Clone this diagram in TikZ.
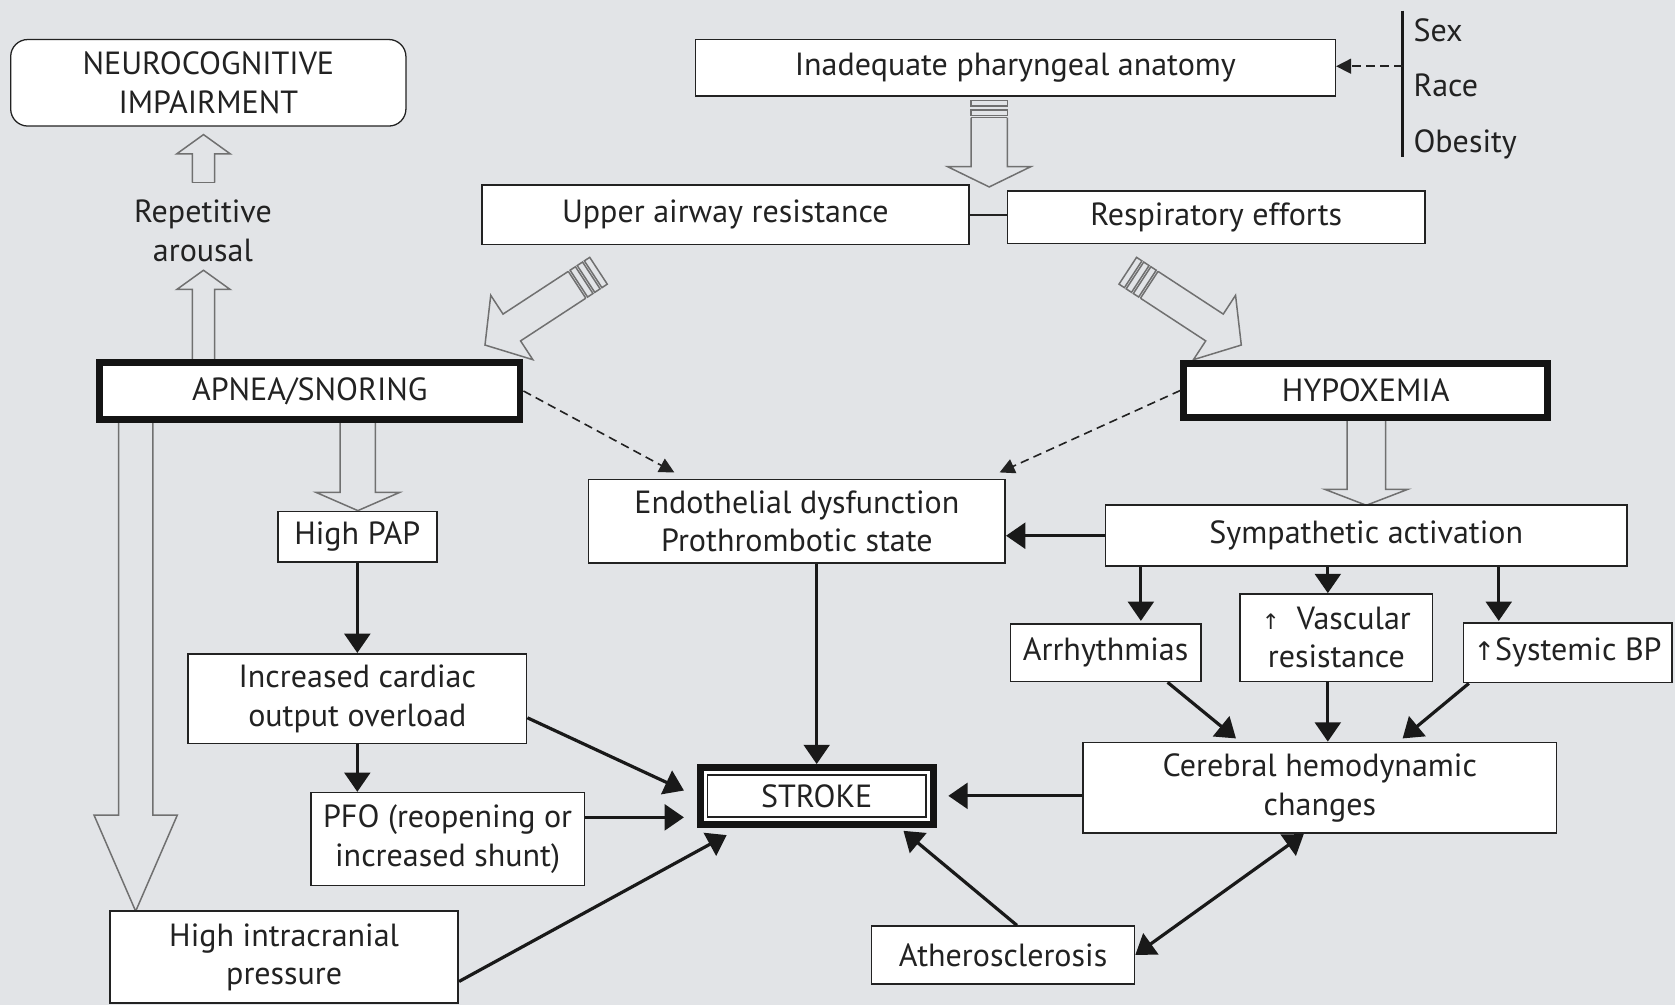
\documentclass[tikz,border=0pt]{standalone}
\usepackage{fontspec}
\setmainfont{PT Sans}
\newfontfamily\symfont{DejaVu Sans}
\usetikzlibrary{arrows.meta,calc}
\definecolor{bg}{HTML}{E2E4E7}
\definecolor{ink}{HTML}{222222}
\definecolor{hol}{HTML}{707070}
\tikzset{
  box/.style={draw=ink, line width=1.5pt, fill=white, align=center, inner sep=0pt,
    text=ink, font=\fontsize{30}{36}\selectfont},
  thickbox/.style={box, line width=6.5pt, draw=black!92},
  arr/.style={draw=black!90, line width=3pt, -{Triangle[length=18pt,width=24pt]}},
  dbl/.style={draw=black!90, line width=3pt, {Triangle[length=18pt,width=24pt]}-{Triangle[length=18pt,width=24pt]}},
  darr/.style={draw=ink, line width=1.5pt, dash pattern=on 8pt off 5pt, -{Triangle[length=14pt,width=14pt]}},
  hollow/.style={draw=hol, line width=1.4pt, fill=bg, line join=miter},
  lbl/.style={text=ink, align=center, inner sep=0pt, font=\fontsize{30}{36}\selectfont},
  link/.style={draw=ink, line width=1.5pt},
}
% #1,#2 tip; #3 canvas angle tip->tail; #4 head length; #5 head half width;
% #6 shaft half width; #7 shaft length; #8 extra code in local frame
\newcommand\HollowArrow[8]{%
  \begin{scope}[shift={(#1,#2)},rotate=#3]
    \draw[hollow] (#4+#7,#6) -- (#4,#6) -- (#4,#5) -- (0,0) -- (#4,-#5) -- (#4,-#6) -- (#4+#7,-#6);
    #8
  \end{scope}}
\begin{document}
\begin{tikzpicture}[x=1pt,y=-1pt]
\fill[bg] (0,0) rectangle (1568,941);
\useasboundingbox (0,0) rectangle (1568,941);

% hollow arrows (drawn first, boxes cover their ends)
\HollowArrow{190.5}{126}{270}{18}{25}{10.5}{27}{\draw[hollow] (45,10.5) -- (45,-10.5);}
\HollowArrow{190.5}{253}{270}{18}{25}{10.5}{68}{}
\HollowArrow{335}{478}{90}{17}{39}{16.5}{68}{}
\HollowArrow{127}{853}{90}{90}{39}{16}{370}{}
\HollowArrow{1279}{473}{90}{15}{39}{18}{67}{}
\HollowArrow{926}{175}{90}{19}{39}{17}{46}{%
  \draw[hollow] (65,17) -- (65,-17);
  \draw[hollow] (67,-17) rectangle (72,17);
  \draw[hollow] (76,-17) rectangle (81,17);}
\HollowArrow{454}{323}{33.2}{30}{36}{15}{73}{%
  \draw[hollow] (103,15) -- (103,-15);
  \draw[hollow] (105,-15) rectangle (111,15);
  \draw[hollow] (113,-15) rectangle (119,15);
  \draw[hollow] (121,-15) rectangle (127,15);}
\HollowArrow{1162}{323}{146.8}{30}{36}{15}{73}{%
  \draw[hollow] (103,15) -- (103,-15);
  \draw[hollow] (105,-15) rectangle (111,15);
  \draw[hollow] (113,-15) rectangle (119,15);
  \draw[hollow] (121,-15) rectangle (127,15);}

% nodes
\node[box, rounded corners=16pt, line width=1.2pt, minimum width=370pt, minimum height=81pt] (neuro) at (195,77.5) {NEUROCOGNITIVE\\IMPAIRMENT};
\node[lbl] (arousal) at (190,216) {Repetitive\\arousal};
\node[thickbox, minimum width=393.5pt, minimum height=53.5pt] (apnea) at (290,366) {APNEA/SNORING};
\node[box, minimum width=599pt, minimum height=53pt] (pharyn) at (950.5,63.5) {Inadequate pharyngeal anatomy};
\node[box, minimum width=456pt, minimum height=56pt] (upper) at (679,201) {Upper airway resistance};
\node[box, minimum width=391pt, minimum height=49pt] (resp) at (1138.5,203.5) {Respiratory efforts};
\node[thickbox, minimum width=340.5pt, minimum height=50.5pt] (hypox) at (1278.5,365.5) {HYPOXEMIA};
\node[box, minimum width=390pt, minimum height=78pt] (endo) at (746,488) {Endothelial dysfunction\\Prothrombotic state};
\node[box, minimum width=488pt, minimum height=57pt] (symp) at (1279,501.5) {Sympathetic activation};
\node[box, minimum width=149pt, minimum height=47pt] (pap) at (334.5,502.5) {High PAP};
\node[box, minimum width=317pt, minimum height=84pt] (cardiac) at (334.5,654) {Increased cardiac\\output overload};
\node[box, minimum width=256pt, minimum height=87pt] (pfo) at (419,785.5) {PFO (reopening or\\increased shunt)};
\node[box, minimum width=326pt, minimum height=86pt] (icp) at (266,896) {High intracranial\\pressure};
\node[box, minimum width=178pt, minimum height=54pt] (arrh) at (1035,611) {Arrhythmias};
\node[box, minimum width=180pt, minimum height=82pt] (vasc) at (1251,597) {{\symfont\fontsize{20}{20}\selectfont ↑}\ \ Vascular\\resistance};
\node[box, minimum width=195pt, minimum height=56pt] (sbp) at (1467.5,611) {{\symfont\fontsize{24}{24}\selectfont ↑}Systemic BP};
\node[box, minimum width=443pt, minimum height=85pt] (cereb) at (1235.5,737.5) {Cerebral hemodynamic\\changes};
\node[thickbox, minimum width=218pt, minimum height=53pt] (stroke) at (764.5,745) {STROKE};
\draw[link] ([shift={(10,10)}]stroke.north west) rectangle ([shift={(-10,-10)}]stroke.south east);
\node[box, minimum width=246pt, minimum height=54pt] (athero) at (939,894) {Atherosclerosis};

\node[lbl, anchor=west] (sex) at (1323,28) {Sex};
\node[lbl, anchor=west] (race) at (1323,80) {Race};
\node[lbl, anchor=west] (obes) at (1323,135) {Obesity};
\coordinate (bartop) at (1313,10);
\coordinate (barbot) at (1313,147);
\coordinate (barmid) at (1313,62);
\draw[line width=3pt, black!90] (bartop) -- (barbot);
\draw[darr] (barmid) -- (barmid -| pharyn.east);

% connector anchor points
\coordinate (cardout) at ($(cardiac.north east)!0.71!(cardiac.south east)$);
\coordinate (pfoout) at ($(pfo.north east)!0.27!(pfo.south east)$);
\coordinate (icpout) at ($(icp.north east)!0.76!(icp.south east)$);

% connectors
\draw[link] (upper.east) -- (upper.east -| resp.west);
\draw[arr] (pap.south) -- (cardiac.north);
\draw[arr] (cardiac.south) -- (cardiac.south |- pfo.north);
\draw[arr] (cardout) -- ([shift={(-12,-5)}]stroke.west);
\draw[arr, shorten >=12pt] (pfoout) -- (pfoout -| stroke.west);
\draw[arr] (icpout) -- ([shift={(28,7)}]stroke.south west);
\draw[arr] (stroke.north |- endo.south) -- (stroke.north);
\draw[arr] (cereb.west |- stroke.east) -- ([xshift=11pt]stroke.east);
\draw[arr] ([xshift=13pt]athero.north) -- ([shift={(-31,3)}]stroke.south east);
\draw[dbl] (athero.east) -- ([xshift=-15pt]cereb.south);
\draw[arr] (symp.west) -- (symp.west -| endo.east);
\draw[arr] ([xshift=33pt]arrh.north |- symp.south) -- ([shift={(33,-2)}]arrh.north);
\draw[arr] ([xshift=-8pt]vasc.north |- symp.south) -- ([xshift=-8pt]vasc.north);
\draw[arr] ([xshift=-64.5pt]sbp.north |- symp.south) -- ([shift={(-64.5,-1)}]sbp.north);
\draw[arr] ([xshift=58pt]arrh.south) -- ([shift={(-78.5,-3)}]cereb.north);
\draw[arr] ([xshift=-8pt]vasc.south) -- ([xshift=-8pt]vasc.south |- cereb.north);
\draw[arr] ([xshift=-92.5pt]sbp.south) -- ([shift={(77.5,-3)}]cereb.north);
\draw[darr] (apnea.east) -- ([shift={(81,-6)}]endo.north west);
\draw[darr] (hypox.west) -- ([shift={(-6,-6)}]endo.north east);
\end{tikzpicture}
\end{document}
